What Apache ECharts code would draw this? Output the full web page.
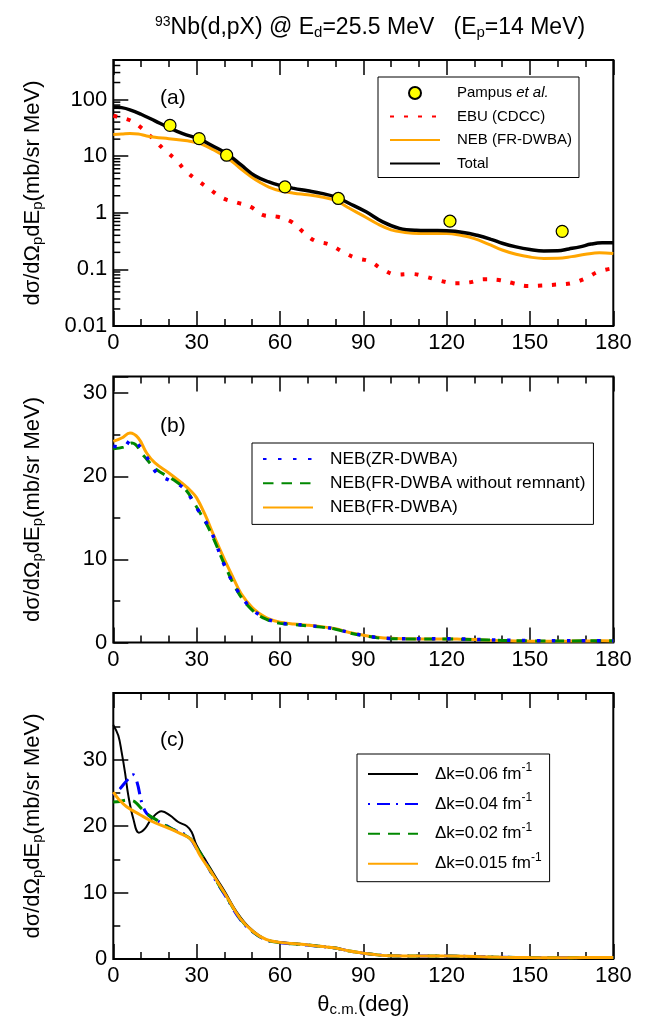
<!DOCTYPE html>
<html>
<head>
<meta charset="utf-8">
<script src="https://cdn.jsdelivr.net/npm/echarts@6/dist/echarts.min.js"></script>
<style>
  html, body { margin: 0; padding: 0; background: #fff; }
  #chart { width: 647px; height: 1019px; }
</style>
</head>
<body>
<div id="chart"></div>
<script>
// ---- data: [theta (deg), dsigma/dOmega dE] ----
const xTicks = [0, 30, 60, 90, 120, 150, 180];

// panel (a)
const pampus = [[20.4, 35], [30.9, 20.4], [40.8, 10.4], [61.8, 2.86], [81, 1.79], [121.2, 0.71], [161.6, 0.47]];
const ebuCdcc = [[0, 52], [1.2, 50], [6.5, 42], [10.8, 29.5], [14.7, 19.3], [18.6, 12.7], [22.6, 8.5], [26.4, 5.3],
  [30.6, 3.65], [34.8, 2.6], [39.2, 1.83], [44.4, 1.52], [49.5, 1.27], [54, 0.91], [59.2, 0.85], [64.4, 0.68],
  [68.4, 0.455], [72.6, 0.32], [77.8, 0.275], [82.6, 0.204], [87.2, 0.16], [92.4, 0.138], [97, 0.1], [102, 0.081],
  [107.4, 0.083], [112.6, 0.074], [117.6, 0.063], [123, 0.057], [128.2, 0.059], [133.4, 0.067], [138.8, 0.065],
  [144, 0.057], [149.2, 0.051], [154.3, 0.052], [159.6, 0.054], [164.8, 0.057], [169.9, 0.069], [174.6, 0.091], [180, 0.105]];
const nebFr = [[0, 24.2], [3, 24.6], [6, 25.2], [9, 24.6], [12, 22.8], [15, 21.6], [20, 20.4], [25, 19.1], [28, 18.2],
  [30, 17.4], [33, 15.4], [36, 13.0], [40, 10.0], [43, 7.9], [46, 5.9], [50, 4.2], [53, 3.4], [56, 2.85], [60, 2.45],
  [65, 2.22], [70, 2.08], [75, 1.9], [80, 1.65], [85, 1.2], [90, 0.88], [95, 0.64], [100, 0.5], [105, 0.45], [110, 0.43],
  [120, 0.43], [125, 0.40], [130, 0.35], [135, 0.28], [140, 0.22], [145, 0.185], [150, 0.165], [155, 0.156], [160, 0.157],
  [165, 0.168], [170, 0.185], [175, 0.197], [180, 0.19]];
const total = [[0, 74], [3, 72], [6, 66], [10, 55], [15, 42], [20, 32], [25, 25], [31, 20], [36, 15], [41, 11], [46, 7.0],
  [51, 4.5], [56, 3.5], [60, 3.05], [65, 2.7], [70, 2.45], [75, 2.2], [80, 1.9], [85, 1.46], [91, 1.04], [97, 0.69],
  [103, 0.53], [109, 0.49], [115, 0.485], [120, 0.48], [126, 0.45], [131, 0.40], [136, 0.34], [140, 0.29], [145, 0.25],
  [150, 0.225], [155, 0.212], [160, 0.213], [164, 0.23], [168, 0.25], [172, 0.28], [176, 0.295], [180, 0.295]];

// panel (b)
const nebZr = [[0, 23.6], [3.7, 23.5], [6.4, 24.4], [10.4, 23.2], [15.6, 20.4], [20.8, 19.4], [25.2, 18.6], [30.4, 16.0],
  [35, 13.5], [40, 9.3], [45, 6.1], [50, 4.0], [55, 2.9], [60, 2.35], [65, 2.2], [70, 2.05], [75, 1.9], [80, 1.6],
  [85, 1.2], [90, 0.85], [95, 0.6], [100, 0.48], [110, 0.45], [120, 0.45], [130, 0.38], [140, 0.28], [150, 0.22],
  [160, 0.2], [170, 0.22], [180, 0.22]];
const nebFrNoRem = [[0, 23.3], [3.7, 23.5], [6.7, 24.0], [11.1, 22.4], [15.6, 20.8], [21.5, 19.6], [26, 18.4], [30, 16.3],
  [35, 13.3], [40, 9.4], [45, 6.0], [50, 3.9], [55, 2.8], [60, 2.3], [65, 2.15], [70, 2.0], [75, 1.85], [80, 1.6],
  [85, 1.15], [90, 0.82], [95, 0.58], [100, 0.46], [110, 0.42], [120, 0.42], [130, 0.35], [140, 0.25], [150, 0.2],
  [160, 0.18], [170, 0.2], [180, 0.2]];

// panel (c)
const tailC = [[74.4, 1.9], [80, 1.65], [85, 1.2], [90, 0.88], [95, 0.62], [100, 0.48], [110, 0.44], [120, 0.44],
  [130, 0.37], [140, 0.27], [150, 0.21], [160, 0.19], [170, 0.21], [180, 0.21]];
const dk006 = [[0, 35.2], [1.8, 33.6], [3, 31.1], [4.2, 28.1], [5.4, 24.6], [7.2, 21.1], [9.2, 19.0], [11.4, 19.6],
  [13.8, 21.1], [17.4, 22.2], [20.4, 21.6], [23.4, 20.6], [26.4, 20.0], [28.2, 19.1], [30, 17.1], [33.6, 14.6],
  [37.2, 12.1], [40.2, 10.1], [44.4, 7.1], [49.2, 4.65], [55.2, 2.9], [60, 2.55], [69.6, 2.15]].concat(tailC);
const dk004 = [[0, 24.6], [2.4, 25.6], [4.8, 26.8], [7.2, 27.7], [8.6, 26.5], [10.2, 23.6], [12, 21.9], [15, 21.0],
  [18.6, 20.2], [22, 19.4], [27, 18.4], [30, 16.6], [33.6, 14.2], [36, 12.4], [40.8, 9.2], [45.6, 6.0], [50.4, 4.0],
  [55.2, 2.85], [60, 2.45], [69.6, 2.1]].concat(tailC);
const dk002 = [[0, 23.6], [2.4, 23.7], [4.8, 23.9], [7, 23.8], [8.4, 23.4], [10.2, 22.6], [12.6, 21.7], [16, 20.8],
  [20, 19.8], [25, 18.8], [28, 18.0], [30, 16.8], [33.6, 14.3], [36, 12.5], [40.8, 9.3], [45.6, 6.1], [50.4, 4.05],
  [55.2, 2.87], [60, 2.48], [69.6, 2.12]].concat(tailC);
const dk0015 = [[0, 25.1], [2, 24.0], [4.8, 22.9], [9.6, 21.7], [14.4, 20.6], [19.2, 19.8], [24, 18.9], [28.2, 17.9],
  [31.2, 15.6], [36, 12.6], [40.8, 9.4], [45.6, 6.15], [50.4, 4.1], [55.2, 2.9], [60, 2.5], [69.6, 2.15]].concat(tailC);

// minor ticks of the log axis in (a)
const logDecades = [0.01, 0.1, 1, 10, 100];
const logMinor = [2, 3, 4, 5, 6, 7, 8, 9];

const FONT = '"Liberation Sans", Arial, Helvetica, sans-serif';
const chart = echarts.init(document.getElementById('chart'), null, { renderer: 'canvas' });

const GRID_TOPS = [60, 376.5, 693];
const subRich = {
  sub: { fontSize: 15, fontFamily: FONT, color: '#000', padding: [10, 0, 0, 0] },
  sup: { fontSize: 14, fontFamily: FONT, color: '#000', padding: [0, 0, 12, 0] },
  i: { fontSize: 15, fontFamily: FONT, color: '#000', fontStyle: 'italic' }
};

function bottomAxis(gridIndex, showName) {
  return {
    type: 'value', gridIndex: gridIndex, position: 'bottom', min: 0, max: 180, interval: 30,
    axisLine: { show: false },
    axisTick: { inside: true, length: 15, lineStyle: { color: '#000', width: 1.5 } },
    minorTick: { show: true, splitNumber: 3, length: 7, lineStyle: { color: '#000', width: 1.5 } },
    splitLine: { show: false },
    axisLabel: { fontSize: 22, fontFamily: FONT, color: '#000', margin: 6 },
    name: showName ? 'θ{sub|c.m.}(deg)' : '',
    nameLocation: 'middle', nameGap: 33,
    nameTextStyle: { fontSize: 22, fontFamily: FONT, color: '#000', rich: subRich }
  };
}
function topAxis(gridIndex) {
  return {
    type: 'value', gridIndex: gridIndex, position: 'top', min: 0, max: 180, interval: 30,
    axisLine: { show: false },
    axisTick: { inside: true, length: 15, lineStyle: { color: '#000', width: 1.5 } },
    minorTick: { show: true, splitNumber: 3, length: 7, lineStyle: { color: '#000', width: 1.5 } },
    splitLine: { show: false },
    axisLabel: { show: false }
  };
}
const yName = 'dσ/dΩ{sub|p}dE{sub|p}(mb/sr MeV)';
function yAxisCommon(gridIndex) {
  return {
    gridIndex: gridIndex,
    axisLine: { show: false },
    axisTick: { inside: true, length: 15, lineStyle: { color: '#000', width: 1.5 } },
    splitLine: { show: false },
    axisLabel: { fontSize: 22, fontFamily: FONT, color: '#000', margin: 6, showMaxLabel: false },
    name: yName, nameLocation: 'middle', nameGap: 68,
    nameTextStyle: { fontSize: 22, fontFamily: FONT, color: '#000', rich: subRich }
  };
}

const legendBase = {
  orient: 'vertical', itemWidth: 50, itemHeight: 12, selectedMode: false,
  borderColor: '#000', borderWidth: 1, backgroundColor: '#fff'
};
// legend entry for a line: no marker drawn on the sample
const lineItem = name => ({ name: name, itemStyle: { color: 'transparent', borderColor: 'transparent', borderWidth: 0, opacity: 0 } });

const option = {
  animation: false,
  backgroundColor: '#fff',
  title: [
    {
      text: '{sup|93}Nb(d,pX) @ E{sub|d}=25.5 MeV   (E{sub|p}=14 MeV)',
      left: 150, top: 10,
      textStyle: { fontSize: 23, fontWeight: 'normal', fontFamily: FONT, color: '#000', rich: subRich }
    },
    { text: '(a)', left: 155, top: 83, textStyle: { fontSize: 21, fontWeight: 'normal', fontFamily: FONT, color: '#000' } },
    { text: '(b)', left: 155, top: 411, textStyle: { fontSize: 21, fontWeight: 'normal', fontFamily: FONT, color: '#000' } },
    { text: '(c)', left: 155, top: 725, textStyle: { fontSize: 21, fontWeight: 'normal', fontFamily: FONT, color: '#000' } }
  ],
  legend: [
    Object.assign({}, legendBase, {
      left: 378, top: 77, itemGap: 7.5, padding: [8, 7, 6, 11],
      data: [{ name: 'Pampus et al.' }, lineItem('EBU (CDCC)'), lineItem('NEB (FR-DWBA)'), lineItem('Total')],
      formatter: n => n === 'Pampus et al.' ? 'Pampus {i|et al.}' : n,
      textStyle: { fontSize: 15, fontFamily: FONT, color: '#000', lineHeight: 16, padding: [0, 0, 0, 12], rich: subRich }
    }),
    Object.assign({}, legendBase, {
      left: 252, top: 443, itemGap: 6.2, padding: [7, 8, 8, 10],
      data: [lineItem('NEB(ZR-DWBA)'), lineItem('NEB(FR-DWBA without remnant)'), lineItem('NEB(FR-DWBA)')],
      textStyle: { fontSize: 17.3, fontFamily: FONT, color: '#000', lineHeight: 18, padding: [0, 0, 0, 12] }
    }),
    Object.assign({}, legendBase, {
      left: 357, top: 754, itemGap: 7.9, padding: [8, 8, 8, 10],
      data: [lineItem('Δk=0.06 fm-1'), lineItem('Δk=0.04 fm-1'), lineItem('Δk=0.02 fm-1'), lineItem('Δk=0.015 fm-1')],
      formatter: n => n.replace('fm-1', 'fm{sup|-1}'),
      textStyle: {
        fontSize: 17, fontFamily: FONT, color: '#000', lineHeight: 20, padding: [0, 0, 0, 12],
        rich: { sup: { fontSize: 12, fontFamily: FONT, color: '#000', padding: [0, 0, 12, 0] } }
      }
    })
  ],
  grid: GRID_TOPS.map(t => ({
    left: 113.3, top: t, width: 500, height: 266,
    show: true, borderColor: '#000', borderWidth: 2, backgroundColor: 'transparent',
    outerBoundsMode: 'none', containLabel: false
  })),
  xAxis: [bottomAxis(0, false), topAxis(0), bottomAxis(1, false), topAxis(1), bottomAxis(2, true), topAxis(2)],
  yAxis: [
    Object.assign(yAxisCommon(0), {
      type: 'log', logBase: 10, min: 0.01, max: 500,
      axisLabel: {
        fontSize: 22, fontFamily: FONT, color: '#000', margin: 6, showMaxLabel: false,
        formatter: v => String(parseFloat(Number(v).toPrecision(3)))
      }
    }),
    Object.assign(yAxisCommon(1), {
      type: 'value', min: 0, max: 32, interval: 10,
      minorTick: { show: true, splitNumber: 2, length: 7, lineStyle: { color: '#000', width: 1.5 } }
    }),
    Object.assign(yAxisCommon(2), {
      type: 'value', min: 0, max: 40, interval: 10,
      minorTick: { show: true, splitNumber: 2, length: 7, lineStyle: { color: '#000', width: 1.5 } }
    })
  ],
  series: [
    // log-axis minor ticks for (a)
    {
      type: 'custom', xAxisIndex: 0, yAxisIndex: 0, silent: true, clip: false,
      data: logDecades.flatMap(d => logMinor.map(m => [0, +(d * m).toPrecision(3)])).filter(p => p[1] <= 500),
      renderItem: (params, api) => {
        const p = api.coord([api.value(0), api.value(1)]);
        return { type: 'line', shape: { x1: p[0], y1: p[1], x2: p[0] + 7, y2: p[1] }, style: { stroke: '#000', lineWidth: 1.5 } };
      }
    },
    // (a)
    {
      name: 'EBU (CDCC)', type: 'line', xAxisIndex: 0, yAxisIndex: 0, data: ebuCdcc, smooth: 0.4, symbol: 'none',
      lineStyle: { color: '#ff0000', width: 4, type: [4, 10], cap: 'butt' }, itemStyle: { color: '#ff0000' }, z: 3
    },
    {
      name: 'NEB (FR-DWBA)', type: 'line', xAxisIndex: 0, yAxisIndex: 0, data: nebFr, smooth: 0.4, symbol: 'none',
      lineStyle: { color: '#ffa500', width: 3 }, itemStyle: { color: '#ffa500' }, z: 4
    },
    {
      name: 'Total', type: 'line', xAxisIndex: 0, yAxisIndex: 0, data: total, smooth: 0.4, symbol: 'none',
      lineStyle: { color: '#000', width: 3.5 }, itemStyle: { color: '#000' }, z: 5
    },
    {
      name: 'Pampus et al.', type: 'scatter', xAxisIndex: 0, yAxisIndex: 0, data: pampus, symbol: 'circle', symbolSize: 12,
      itemStyle: { color: '#ffff00', borderColor: '#000', borderWidth: 1.2, opacity: 1 }, z: 6
    },
    // (b)
    {
      name: 'NEB(ZR-DWBA)', type: 'line', xAxisIndex: 2, yAxisIndex: 1, data: nebZr, smooth: 0.4, symbol: 'none',
      lineStyle: { color: '#0000ff', width: 3.5, type: [3.5, 11.5], cap: 'butt' }, itemStyle: { color: '#0000ff' }, z: 5
    },
    {
      name: 'NEB(FR-DWBA without remnant)', type: 'line', xAxisIndex: 2, yAxisIndex: 1, data: nebFrNoRem, smooth: 0.4, symbol: 'none',
      lineStyle: { color: '#008800', width: 3, type: [10.5, 8] }, itemStyle: { color: '#008800' }, z: 4
    },
    {
      name: 'NEB(FR-DWBA)', type: 'line', xAxisIndex: 2, yAxisIndex: 1, data: nebFr, smooth: 0.4, symbol: 'none',
      lineStyle: { color: '#ffa500', width: 3 }, itemStyle: { color: '#ffa500' }, z: 3
    },
    // (c)
    {
      name: 'Δk=0.06 fm-1', type: 'line', xAxisIndex: 4, yAxisIndex: 2, data: dk006, smooth: 0.4, symbol: 'none',
      lineStyle: { color: '#000', width: 2 }, itemStyle: { color: '#000' }, z: 3
    },
    {
      name: 'Δk=0.04 fm-1', type: 'line', xAxisIndex: 4, yAxisIndex: 2, data: dk004, smooth: 0.4, symbol: 'none',
      lineStyle: { color: '#0000ff', width: 3, type: [2, 7, 13, 6], cap: 'butt' }, itemStyle: { color: '#0000ff' }, z: 4
    },
    {
      name: 'Δk=0.02 fm-1', type: 'line', xAxisIndex: 4, yAxisIndex: 2, data: dk002, smooth: 0.4, symbol: 'none',
      lineStyle: { color: '#008800', width: 3, type: [12, 8] }, itemStyle: { color: '#008800' }, z: 4
    },
    {
      name: 'Δk=0.015 fm-1', type: 'line', xAxisIndex: 4, yAxisIndex: 2, data: dk0015, smooth: 0.4, symbol: 'none',
      lineStyle: { color: '#ffa500', width: 3 }, itemStyle: { color: '#ffa500' }, z: 5
    }
  ]
};
chart.setOption(option);
</script>
</body>
</html>
